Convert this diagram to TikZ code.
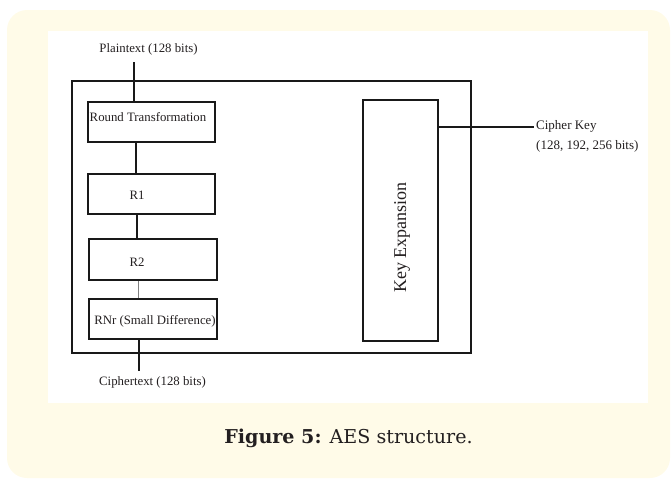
\documentclass[tikz,border=0pt]{standalone}
\usepackage{fontspec}
\setmainfont{Liberation Serif}
\newfontfamily\capfont{DejaVu Serif}
\definecolor{cardbg}{RGB}{255,251,232}
\definecolor{ink}{RGB}{35,31,32}
\definecolor{lineink}{RGB}{25,25,25}
\begin{document}
\begin{tikzpicture}[x=1pt,y=-1pt,
  box/.style={draw=lineink, line width=1.6pt, inner sep=0pt},
  lbl/.style={font=\fontsize{12.8}{14}\selectfont, text=ink, inner sep=0pt},
  wire/.style={draw=lineink, line width=1.6pt},
  thinwire/.style={draw=gray, line width=0.6pt}]
\useasboundingbox (0,0) rectangle (672,479);
\fill[cardbg, rounded corners=20pt] (7,10) rectangle (670,478);
\fill[white] (48,31) rectangle (648,403);

% boxes
\node[box, minimum width=399pt, minimum height=272pt] (outer) at (271.5,217) {};
\node[box, minimum width=127pt, minimum height=40pt] (rt) at (151.5,122) {};
\node[box, minimum width=127pt, minimum height=40pt] (r1) at (151.5,194) {};
\node[box, minimum width=128pt, minimum height=41pt] (r2) at (153,259.5) {};
\node[box, minimum width=128pt, minimum height=40pt] (rnr) at (153,319) {};
\node[box, minimum width=75pt, minimum height=241pt] (key) at (400.5,220.5) {};

% labels
\node[lbl] (trt) at (148,117) {Round Transformation};
\node[lbl] (tr1) at (137,195) {R1};
\node[lbl] (tr2) at (137,262) {R2};
\node[lbl] (trnr) at (155,321) {RNr (Small Difference)};
\node[lbl, font=\fontsize{18}{20}\selectfont, rotate=90] (tkey) at (402,237.5) {Key Expansion};
\node[lbl] (pt) at (148.5,49) {Plaintext (128 bits)};
\node[lbl] (ct) at (152.5,382) {Ciphertext (128 bits)};
\node[lbl, font=\fontsize{13}{15}\selectfont, anchor=west] (ckey) at (536,126) {Cipher Key};
\node[lbl, font=\fontsize{13}{15}\selectfont, anchor=west] (cbits) at (536,146) {(128, 192, 256 bits)};

% connectors
\coordinate (ptin) at (134,62);
\draw[wire] (ptin) -- (ptin |- rt.north);
\draw[wire] ([xshift=-15.5pt]rt.south) -- ([xshift=-15.5pt]rt.south |- r1.north);
\draw[wire] ([xshift=-14.5pt]r1.south) -- ([xshift=-14.5pt]r1.south |- r2.north);
\draw[thinwire] ([xshift=-15pt]r2.south) -- ([xshift=-15pt]r2.south |- rnr.north);
\coordinate (ctout) at (139,371);
\draw[wire] (ctout |- rnr.south) -- (ctout);
\coordinate (ckin) at (534,127);
\draw[wire] (ckin -| key.east) -- (ckin);

% caption
\node[font=\capfont\fontsize{19.1}{22}\selectfont, text=ink, anchor=base, inner sep=0pt] (cap) at (348.5,443) {\textbf{Figure 5:} AES structure.};
\end{tikzpicture}
\end{document}
